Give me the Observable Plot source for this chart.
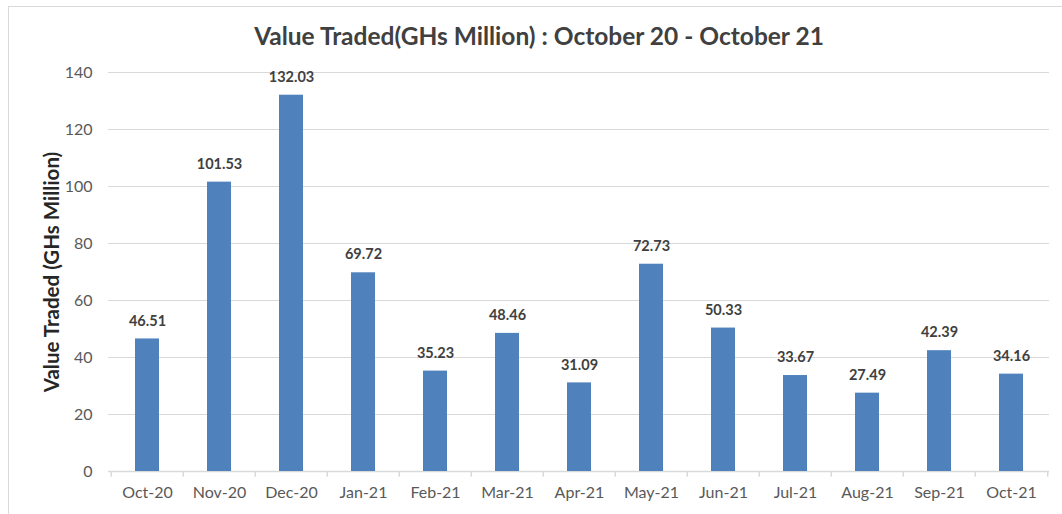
<!DOCTYPE html>
<html>
<head>
<meta charset="utf-8">
<script src="https://cdn.jsdelivr.net/npm/d3@7"></script>
<script src="https://cdn.jsdelivr.net/npm/@observablehq/plot@0.6"></script>
<style>
  html, body { margin: 0; padding: 0; background: #fff; }
  #wrap { position: relative; width: 1062px; height: 514px; overflow: hidden; font-family: Lato, "Open Sans", sans-serif; }
  #border { position: absolute; left: 8px; top: 6px; width: 1070px; height: 520px; border: 1px solid #d9d9d9; box-sizing: border-box; }
  #title { position: absolute; left: 0; top: 21px; width: 1078px; text-align: center; font-size: 24.5px; font-weight: bold; color: #404040; }
  #chart { position: absolute; left: 0; top: 0; }
  #chart g[aria-label="y-axis label"] text { font-weight: bold; font-size: 20.5px; fill: #262626; }
</style>
</head>
<body>
<div id="wrap">
  <div id="border"></div>
  <div id="chart"></div>
  <div id="title">Value Traded(GHs Million) : October 20 - October 21</div>
</div>
<script>
const months = ["Oct-20","Nov-20","Dec-20","Jan-21","Feb-21","Mar-21","Apr-21","May-21","Jun-21","Jul-21","Aug-21","Sep-21","Oct-21"];
const values = [46.51, 101.53, 132.03, 69.72, 35.23, 48.46, 31.09, 72.73, 50.33, 33.67, 27.49, 42.39, 34.16];
const yTicks = [0, 20, 40, 60, 80, 100, 120, 140];
const yLabel = "Value Traded (GHs Million)";

const data = months.map((m, i) => ({month: m, value: values[i]}));

const W = 1062, H = 514, ML = 108, MR = 13, MT = 72, MB = 43;
const step = (W - ML - MR) / months.length;

const chart = Plot.plot({
  width: W,
  height: H,
  marginLeft: ML,
  marginRight: MR,
  marginTop: MT,
  marginBottom: MB,
  style: {fontFamily: "Lato, 'Open Sans', sans-serif", fontSize: "16px", color: "#595959", background: "transparent", overflow: "visible"},
  x: {domain: months, paddingInner: 0.67, paddingOuter: 0.335, label: null},
  y: {domain: [0, 140], label: null},
  marks: [
    Plot.gridY(yTicks, {stroke: "#d9d9d9", strokeOpacity: 1}),
    Plot.axisY(yTicks, {tickSize: 0, tickPadding: 16, fill: "#595959", label: yLabel, labelAnchor: "center", labelArrow: "none", labelOffset: 64}),
    Plot.axisX({tickSize: 0, tickPadding: 15, fill: "#595959"}),
    Plot.ruleY([0], {stroke: "#d9d9d9", strokeWidth: 1.5}),
    Plot.ruleX(months, {x: d => d, y1: 0, y2: -2, dx: -step / 2, stroke: "#d9d9d9", strokeWidth: 1.5}),
    Plot.ruleX(months.slice(-1), {x: d => d, y1: 0, y2: -2, dx: step / 2, stroke: "#d9d9d9", strokeWidth: 1.5}),
    Plot.barY(data, {x: "month", y: "value", fill: "#4f81bd"}),
    Plot.text(data, {x: "month", y: "value", text: d => d.value.toFixed(2), dy: -18, fill: "#404040", fontWeight: "bold", fontSize: 14.5})
  ]
});
document.getElementById("chart").appendChild(chart);
</script>
</body>
</html>
